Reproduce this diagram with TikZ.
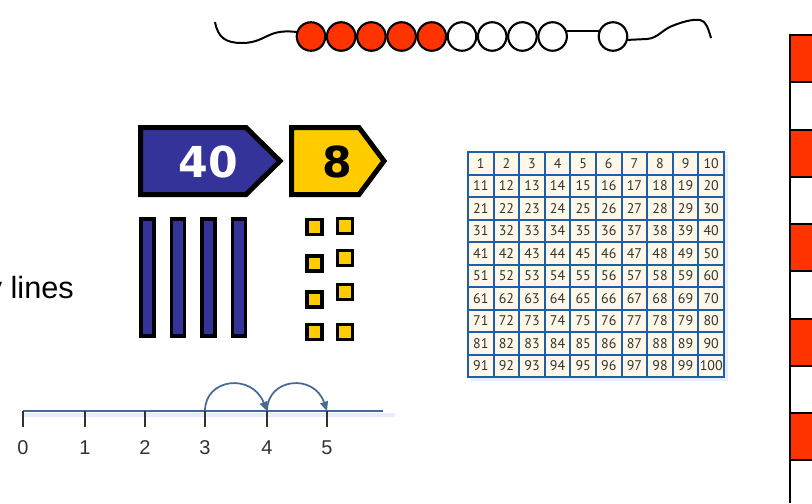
\documentclass[tikz,border=0pt]{standalone}
\usepackage{fontspec}
\setmainfont{Liberation Sans}
\newfontfamily\cardfont{DejaVu Sans}
\newfontfamily\chartfont{PT Sans}
\usetikzlibrary{arrows.meta}
\definecolor{beadred}{RGB}{255,51,0}
\definecolor{tenblue}{RGB}{51,51,153}
\definecolor{unityellow}{RGB}{255,204,0}
\definecolor{gridblue}{RGB}{30,95,170}
\definecolor{gridcream}{RGB}{255,248,232}
\definecolor{jumpblue}{RGB}{70,105,150}
\definecolor{inkgray}{RGB}{50,50,50}

\begin{document}
\begin{tikzpicture}[x=0.75pt, y=-0.75pt,
  bead/.style={circle, draw, line width=1.6pt, minimum size=21.4pt, inner sep=0pt, outer sep=0pt},
  card/.style={draw, line width=3.75pt, miter limit=4},
  rod/.style={draw, fill=tenblue, line width=2.6pt},
  cube/.style={draw, fill=unityellow, line width=2.6pt},
  cell/.style={font=\chartfont\fontsize{10.5pt}{10.5pt}\selectfont, text=inkgray, inner sep=0pt},
  ticklabel/.style={font=\fontsize{15pt}{15pt}\selectfont, text=inkgray, inner sep=0pt},
  jump/.style={draw=jumpblue, line width=1.3pt, -{Triangle[length=7pt,width=6pt]}}]

  \useasboundingbox (0,0) rectangle (812,503);
  \clip (0,0) rectangle (812,503);

  % bead string
  \foreach \i in {0,...,4}
    \node[bead, fill=beadred] (b\i) at (311+30.2*\i,36.5) {};
  \foreach \i in {5,...,8}
    \node[bead, fill=white] (b\i) at (311+30.2*\i,36.5) {};
  \node[bead, fill=white] (b9) at (613,36.5) {};
  \coordinate (lend) at (215,22);
  \coordinate (rend) at (711,38);
  \draw[line width=1.5pt] (lend) .. controls (218,38) and (226,43) .. (242,43)
    .. controls (256,43) and (262,38) .. (272,34) .. controls (280,31) and (288,31) .. (b0.162);
  \draw[line width=1.5pt] (b8.22) -- (b9.158);
  \draw[line width=1.5pt] (b9.-14) -- (647,39) .. controls (658,38) and (662,30) .. (672,26)
    .. controls (682,22) and (692,19) .. (700,20) .. controls (706,21) and (708,28) .. (rend);

  % place value cards
  \draw[card, fill=tenblue] (140.5,127.5) -- (246,127.5) -- (280,161) -- (246,194.5) -- (140.5,194.5) -- cycle;
  \node[text=white, font=\cardfont\bfseries\fontsize{32pt}{32pt}\selectfont] (tens) at (208,162) {40};
  \draw[card, fill=unityellow] (291.5,127.5) -- (359,127.5) -- (384,161) -- (359,194.5) -- (291.5,194.5) -- cycle;
  \node[text=black, font=\cardfont\bfseries\fontsize{32pt}{32pt}\selectfont] (units) at (337,162) {8};

  % base ten blocks
  \foreach \x in {139,169.5,200,230.5}
    \draw[rod] (\x+2,219) rectangle (\x+15,336);
  \foreach \x/\y in {314.5/227,314.5/263.5,314.5/299.5,314.5/332,345/226,345/258,345/292,345/332}
    \draw[cube] (\x-7.5,\y-7.5) rectangle (\x+7.5,\y+7.5);

  \node[anchor=base east, font=\fontsize{23pt}{23pt}\selectfont, inner sep=0pt] (lines) at (74,298) {y lines};

  % hundred chart
  \fill[blue!8] (471,155) rectangle (728,381);
  \fill[gridcream] (468,152) rectangle (724,377);
  \foreach \c in {1,...,9}
    \draw[gridblue, line width=1.5pt] (468+25.6*\c,152) -- (468+25.6*\c,377);
  \foreach \r in {1,...,9}
    \draw[gridblue, line width=1.5pt] (468,152+22.5*\r) -- (724,152+22.5*\r);
  \draw[gridblue, line width=2pt] (468,152) rectangle (724,377);
  \foreach \r in {0,...,9}
    \foreach \c in {1,...,10} {
      \pgfmathtruncatemacro\n{10*\r+\c}
      \node[cell] (h\n) at (468+25.6*\c-12.8,152+22.5*\r+11.5) {\n};
    }

  % number line
  \foreach \k/\x in {0/23,1/85,2/145,3/205,4/267,5/327} {
    \coordinate (t\k) at (\x,411);
    \node[ticklabel] (n\k) at (\x,448) {\k};
  }
  \coordinate (nlend) at (383,411);
  \draw[blue!8, line width=3pt] (t0) ++(0,4) -- ++(372,0);
  \draw[jumpblue, line width=1.6pt] (t0) -- (nlend);
  \foreach \k in {0,...,5}
    \draw[inkgray, line width=1.3pt] (t\k) -- ++(0,16);
  \draw[jump] (t3) .. controls (205,378) and (252,373) .. (t4);
  \draw[jump] (t4) .. controls (267,378) and (314,373) .. (t5);

  % bead strip
  \foreach \i in {0,...,4}
    \fill[beadred] (790,35+94.5*\i) rectangle (812,82+94.5*\i);
  \foreach \k in {0,...,9}
    \draw[line width=1.5pt] (790,35+47.25*\k) -- (812,35+47.25*\k);
  \draw[line width=2pt] (790,34) -- (790,503);
\end{tikzpicture}
\end{document}
